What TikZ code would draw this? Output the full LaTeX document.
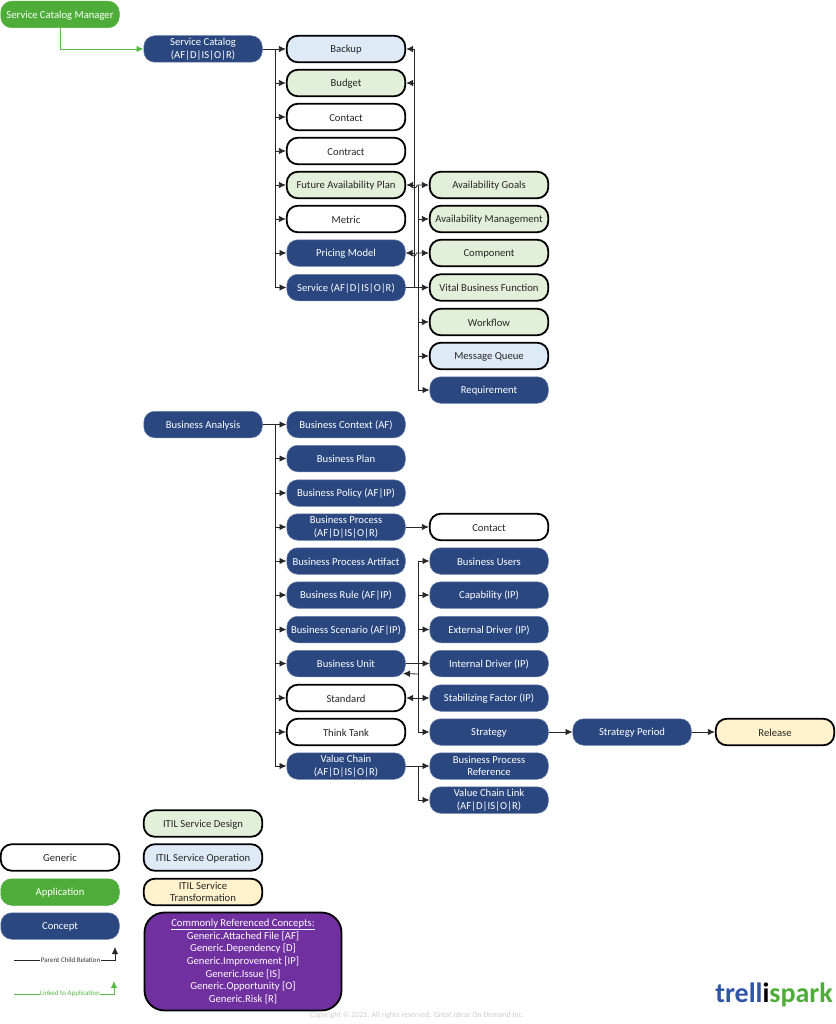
\documentclass[tikz,border=0pt]{standalone}
\usepackage{fontspec}
\usetikzlibrary{arrows.meta}
\setmainfont{Carlito}
\definecolor{conceptblue}{HTML}{2B4780}
\definecolor{appgreen}{HTML}{4EAD38}
\definecolor{designfill}{HTML}{E2EFD9}
\definecolor{opfill}{HTML}{DEEAF6}
\definecolor{transfill}{HTML}{FFF2CC}
\definecolor{refpurple}{HTML}{7030A0}
\definecolor{linkgreen}{HTML}{58B947}
\definecolor{logoblue}{HTML}{2F55A8}
\tikzset{
  box/.style={rounded corners=11pt, minimum width=118.5pt, minimum height=26.5pt, inner sep=1pt, align=center, font=\fontsize{10.65}{12.7}\selectfont, execute at begin node={\rule{0pt}{9pt}}},
  generic/.style={box, draw=black, line width=1.8pt, fill=white, text=black!85},
  design/.style={generic, fill=designfill},
  operation/.style={generic, fill=opfill},
  transition/.style={generic, fill=transfill},
  concept/.style={box, draw=conceptblue!70!white, line width=0.5pt, fill=conceptblue, text=white},
  application/.style={box, draw=appgreen, line width=0.5pt, fill=appgreen, text=white},
  rel/.style={draw=black!85, line width=0.8pt, -{Latex[length=7pt, width=6.5pt]}},
  applink/.style={draw=linkgreen, line width=0.9pt, -{Latex[length=7pt, width=6.5pt]}},
  legendtext/.style={font=\fontsize{7}{8}\selectfont, fill=white, inner sep=0.5pt},
}
\begin{document}
\begin{tikzpicture}[x=1pt, y=-1pt]
  \useasboundingbox (0, 0) rectangle (835, 1024);
  % service catalog
  \node[application] (manager) at (60, 14.5) {Service Catalog Manager};
  \node[concept] (catalog) at (203, 49) {Service Catalog\\(AF|D|IS|O|R)};
  \node[operation] (backup) at (346, 49) {Backup};
  \node[design] (budget) at (346, 83) {Budget};
  \node[generic] (contact) at (346, 117) {Contact};
  \node[generic] (contract) at (346, 151) {Contract};
  \node[design] (futureplan) at (346, 185) {Future Availability Plan};
  \node[generic] (metric) at (346, 219) {Metric};
  \node[concept] (pricing) at (346, 253) {Pricing Model};
  \node[concept] (service) at (346, 287.5) {Service (AF|D|IS|O|R)};
  \node[design] (goals) at (489, 185) {Availability Goals};
  \node[design] (availmgmt) at (489, 219) {Availability Management};
  \node[design] (component) at (489, 253) {Component};
  \node[design] (vital) at (489, 287.5) {Vital Business Function};
  \node[design] (workflow) at (489, 322) {Workflow};
  \node[operation] (queue) at (489, 356) {Message Queue};
  \node[concept] (requirement) at (489, 390) {Requirement};
  % business analysis
  \node[concept] (analysis) at (203, 424.5) {Business Analysis};
  \node[concept] (context) at (346, 424.5) {Business Context (AF)};
  \node[concept] (plan) at (346, 458.5) {Business Plan};
  \node[concept] (policy) at (346, 493) {Business Policy (AF|IP)};
  \node[concept] (process) at (346, 527) {Business Process\\(AF|D|IS|O|R)};
  \node[concept] (artifact) at (346, 561) {Business Process Artifact};
  \node[concept] (rule) at (346, 595) {Business Rule (AF|IP)};
  \node[concept] (scenario) at (346, 629.5) {Business Scenario (AF|IP)};
  \node[concept] (unit) at (346, 663.5) {Business Unit};
  \node[generic] (standard) at (346, 698) {Standard};
  \node[generic] (thinktank) at (346, 732) {Think Tank};
  \node[concept] (chain) at (346, 766) {Value Chain\\(AF|D|IS|O|R)};
  \node[generic] (contacttwo) at (489, 527) {Contact};
  \node[concept] (users) at (489, 561) {Business Users};
  \node[concept] (capability) at (489, 595) {Capability (IP)};
  \node[concept] (external) at (489, 629.5) {External Driver (IP)};
  \node[concept] (internal) at (489, 663.5) {Internal Driver (IP)};
  \node[concept] (stabilizing) at (489, 698) {Stabilizing Factor (IP)};
  \node[concept] (strategy) at (489, 732) {Strategy};
  \node[concept] (reference) at (489, 766) {Business Process\\Reference};
  \node[concept] (chainlink) at (489, 800) {Value Chain Link\\(AF|D|IS|O|R)};
  \node[concept] (period) at (632, 732) {Strategy Period};
  \node[transition] (release) at (775, 732) {Release};
  % legend
  \node[design] (legdesign) at (203, 823.5) {ITIL Service Design};
  \node[generic] (leggeneric) at (60, 857.5) {Generic};
  \node[operation] (legoperation) at (203, 857.5) {ITIL Service Operation};
  \node[application] (legapp) at (60, 892) {Application};
  \node[transition] (legtransition) at (203, 892) {ITIL Service\\Transformation};
  \node[concept] (legconcept) at (60, 926) {Concept};
  \node[box, draw=black, line width=1.8pt, fill=refpurple, text=white, rounded corners=20pt, minimum width=197pt, minimum height=98pt] (legconcepts) at (243, 961.5) {\underline{Commonly Referenced Concepts:}\\Generic.Attached File [AF]\\Generic.Dependency [D]\\Generic.Improvement [IP]\\Generic.Issue [IS]\\Generic.Opportunity [O]\\Generic.Risk [R]};
  \coordinate (parentfrom) at (14, 960);
  \coordinate (parentto) at (115, 947);
  \coordinate (linkfrom) at (14, 994);
  \coordinate (linkto) at (114, 981);
  \draw[rel] (parentfrom) -| (parentto) node[pos=0.28, legendtext, text=black!80] (parentlabel) {Parent Child Relation};
  \draw[applink] (linkfrom) -| (linkto) node[pos=0.28, legendtext, text=linkgreen] (linklabel) {Linked to Application};
  \node[font=\fontsize{7.9}{9}\selectfont, text=black!20] (copyright) at (417, 1015) {Copyright © 2021. All rights reserved. Great Ideaz On Demand Inc.};
  \node[font=\fontsize{28}{30}\selectfont\bfseries, inner sep=0pt, anchor=east] (logo) at (833, 995) {\textcolor{logoblue}{trell}\textcolor{black}{i}\textcolor{appgreen}{spark}};
  % bus lines
  \coordinate (mainbus) at (275, 0);
  \coordinate (leftbus) at (414, 0);
  \coordinate (rightbus) at (418, 0);
  % connectors
  \draw[applink] (manager.south) |- (catalog.west);
  \draw[rel] (catalog.east) -- (backup.west);
  \foreach \child in {budget, contact, contract, futureplan, metric, pricing, service}
    \draw[rel] (catalog.east) -| (mainbus |- \child.west) -- (\child.west);
  \draw[rel] (service.east) -- (vital.west);
  \foreach \child in {backup, budget, futureplan, pricing}
    \draw[rel] (service.east) -| (leftbus |- \child.east) -- (\child.east);
  \foreach \child in {futureplan, pricing}
    \draw[rel] (\child.east) ++(5, 0) arc (180:0:3) -- (\child.east -| goals.west);
  \foreach \child in {availmgmt, workflow, queue, requirement}
    \draw[rel] (service.east) -| (rightbus |- \child.west) -- (\child.west);
  \draw[rel, -] (rightbus |- goals.west) -- (rightbus |- service.east);
  \draw[rel] (analysis.east) -- (context.west);
  \foreach \child in {plan, policy, process, artifact, rule, scenario, unit, standard, thinktank, chain}
    \draw[rel] (analysis.east) -| (mainbus |- \child.west) -- (\child.west);
  \draw[rel] (process.east) -- (contacttwo.west);
  \draw[rel] (unit.east) -- (internal.west);
  \foreach \child in {users, capability, external, stabilizing, strategy}
    \draw[rel] (unit.east) -| (rightbus |- \child.west) -- (\child.west);
  \draw[rel] (rightbus |- unit.south) ++(0, -3) -- (403, 673.5);
  \draw[rel] (rightbus |- standard.east) -- (standard.east);
  \draw[rel] (strategy.east) -- (period.west);
  \draw[rel] (period.east) -- (release.west);
  \draw[rel] (chain.east) -- (reference.west);
  \draw[rel] (chain.east) -| (rightbus |- chainlink.west) -- (chainlink.west);
\end{tikzpicture}
\end{document}
